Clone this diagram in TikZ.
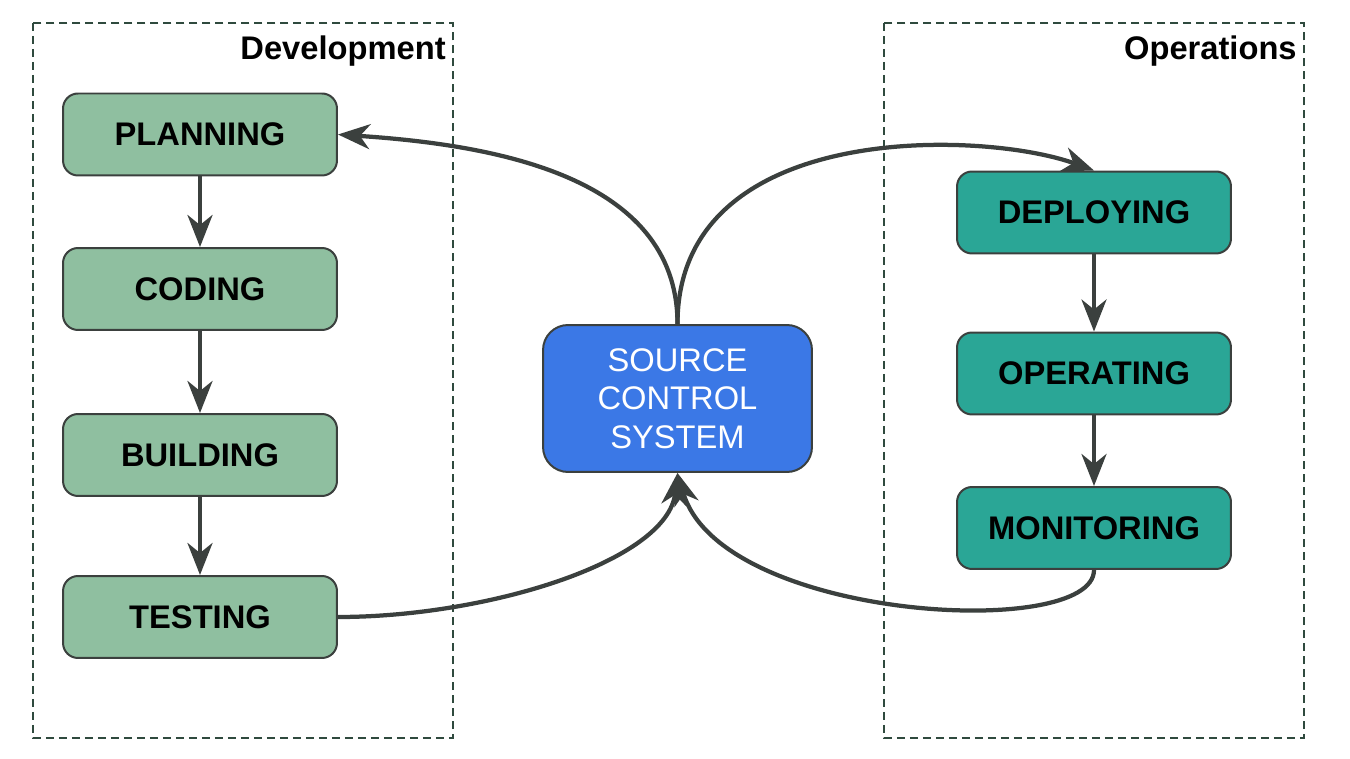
\documentclass[tikz,border=0pt]{standalone}
\usepackage{fontspec}
\setmainfont{Liberation Sans}
\usetikzlibrary{arrows.meta}
\definecolor{devgreen}{HTML}{8FBFA0}
\definecolor{opsteal}{HTML}{2AA696}
\definecolor{hubblue}{HTML}{3B78E6}
\definecolor{linegray}{HTML}{3B403E}
\definecolor{dashgreen}{HTML}{2F4A3E}
\tikzset{
  stepbox/.style={draw=linegray, line width=0.04cm, rounded corners=0.3cm,
    minimum width=5.48cm, minimum height=1.64cm,
    font=\fontsize{18.6}{21}\selectfont\bfseries},
  devbox/.style={stepbox, fill=devgreen},
  opsbox/.style={stepbox, fill=opsteal},
  hubbox/.style={draw=linegray, line width=0.04cm, rounded corners=0.5cm,
    fill=hubblue, text=white, minimum width=5.38cm, minimum height=2.94cm,
    align=center, font=\fontsize{18.6}{22}\selectfont},
  flow/.style={draw=linegray, line width=0.085cm,
    -{Stealth[length=0.64cm, width=0.5cm, inset=0.2cm]}},
  group/.style={draw=dashgreen, line width=0.03cm, dash pattern=on 0.16cm off 0.1cm},
  grouplabel/.style={font=\fontsize{18.6}{21}\selectfont\bfseries}
}
\begin{document}
\begin{tikzpicture}[x=0.02cm, y=-0.02cm]
  \useasboundingbox (0,0) rectangle (1350,759);
  % groups
  \draw[group] (33,23) rectangle (453,738);
  \draw[group] (884,23) rectangle (1304,738);
  \node[grouplabel, anchor=base east, inner sep=0pt] (devlabel) at (446,60) {Development};
  \node[grouplabel, anchor=base east, inner sep=0pt] (opslabel) at (1297,60) {Operations};
  % development steps
  \node[devbox] (planning) at (200,134.5) {PLANNING};
  \node[devbox] (coding) at (200,289) {CODING};
  \node[devbox] (building) at (200,455) {BUILDING};
  \node[devbox] (testing) at (200,617) {TESTING};
  % operations steps
  \node[opsbox] (deploying) at (1094,212.5) {DEPLOYING};
  \node[opsbox] (operating) at (1094,373.5) {OPERATING};
  \node[opsbox] (monitoring) at (1094,528) {MONITORING};
  % hub
  \node[hubbox] (scs) at (677.5,398.5) {SOURCE\\CONTROL\\SYSTEM};
  % arrows down each column
  \draw[flow] (planning) -- (coding);
  \draw[flow] (coding) -- (building);
  \draw[flow] (building) -- (testing);
  \draw[flow] (deploying) -- (operating);
  \draw[flow] (operating) -- (monitoring);
  % arrows out of and into the hub
  \draw[flow] (scs.north) .. controls +(0,-150) and +(150,10) .. (planning.east);
  \draw[flow] (scs.north) .. controls +(0,-205) and +(-110,-40) .. (deploying.north);
  \draw[flow] (testing.east) .. controls +(150,0) and +(-10,88) .. (scs.south);
  \draw[flow] (monitoring.south) .. controls +(0,71) and +(43,148) .. (scs.south);
\end{tikzpicture}
\end{document}
